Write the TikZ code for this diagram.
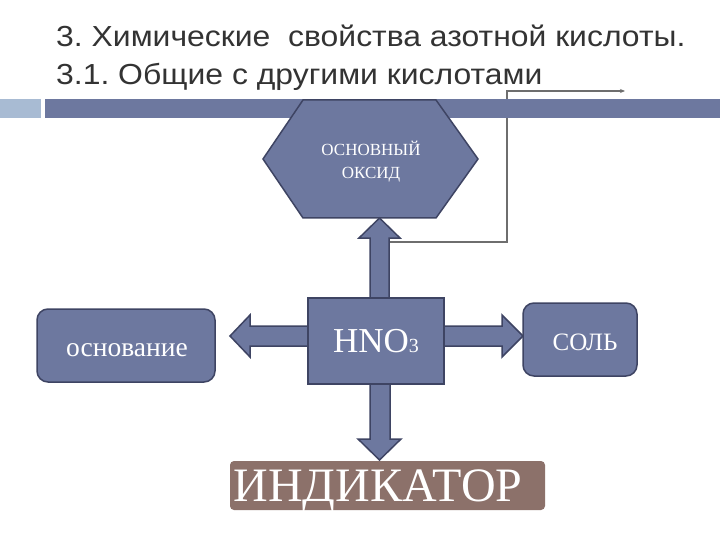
\documentclass[tikz,border=0pt]{standalone}
\usepackage{fontspec}
\setmainfont{Liberation Serif}
\newfontfamily\titlefont{Liberation Sans}
\usetikzlibrary{arrows.meta}
\frenchspacing
\definecolor{boxfill}{HTML}{6D789F}
\definecolor{boxline}{HTML}{3E4463}
\definecolor{lightsq}{HTML}{A8BBD3}
\definecolor{indfill}{HTML}{8C716A}
\definecolor{titlegray}{HTML}{333333}
\definecolor{linegray}{HTML}{6E6E6E}
\tikzset{
  titletext/.style={anchor=base west, text=titlegray, inner sep=0pt,
    font=\titlefont\fontsize{29}{32}\selectfont},
  bluebox/.style={fill=boxfill, draw=boxline, line width=1.5pt, text=white, inner sep=0pt},
  blockarrow/.style={fill=boxfill, draw=boxline, line width=1.5pt, line join=miter},
  connector/.style={draw=linegray, line width=1.5pt, -{Stealth[length=5pt,width=4pt]}},
}
\begin{document}
\begin{tikzpicture}[x=1pt,y=-1pt]
\useasboundingbox (0,0) rectangle (720,540);
\fill[white] (0,0) rectangle (720,540);

% title
\node[titletext] (t1) at (56,47) {\scalebox{1.1}[1]{3. Химические\ \ свойства азотной кислоты.}};
\node[titletext] (t2) at (56,85) {\scalebox{1.1}[1]{3.1. Общие с другими кислотами}};

% connector (partly behind the bar)
\coordinate (cstart) at (390,242);
\coordinate (cend) at (625,91);
\draw[connector] (cstart) -- (507,242) -- (507,91) -- (cend);

% bar
\fill[lightsq] (0,99) rectangle (41,118);
\fill[boxfill] (45,99) rectangle (720,118);

% hexagon
\node[inner sep=0pt, minimum width=215pt, minimum height=118pt] (oxide) at (370.5,159) {};
\filldraw[fill=boxfill, draw=boxline, line width=1.5pt, line join=miter]
  (263,159) -- (303,100) -- (436,100) -- (478,159) -- (436,218) -- (303,218) -- cycle;
\node[text=white, align=center, font=\fontsize{17}{23}\selectfont] (oxidetext) at (371,162) {ОСНОВНЫЙ\\ОКСИД};

% block arrows
\filldraw[blockarrow] (370,300) -- (370,238) -- (359,238) -- (379.5,218) -- (400,238) -- (389,238) -- (389,300);
\filldraw[blockarrow] (370,380) -- (370,439) -- (358,439) -- (379.5,460) -- (401,439) -- (390,439) -- (390,380);
\filldraw[blockarrow] (311,326) -- (250,326) -- (250,315) -- (230,336) -- (250,357) -- (250,346) -- (311,346);
\filldraw[blockarrow] (441,326) -- (502,326) -- (502,315) -- (523,336) -- (502,357) -- (502,346) -- (441,346);

% boxes
\node[bluebox, rounded corners=11pt, minimum width=178pt, minimum height=73pt] (base) at (126,345.5) {};
\node[text=white, inner sep=0pt, font=\fontsize{27.5}{30}\selectfont] (basetext) at (127,350) {основание};
\node[bluebox, minimum width=136pt, minimum height=86pt,
  font=\fontsize{35}{40}\selectfont] (acid) at (376,341) {HNO{\fontsize{20}{20}\selectfont 3}};
\node[bluebox, rounded corners=11pt, minimum width=114pt, minimum height=73pt] (salt) at (580,339.5) {};
\node[text=white, inner sep=0pt, font=\fontsize{25}{28}\selectfont] (salttext) at (585,342) {СОЛЬ};
\node[fill=indfill, rounded corners=4pt, inner sep=0pt, minimum width=315pt, minimum height=49pt] (ind) at (387.5,485.5) {};
\node[text=white, inner sep=0pt, font=\fontsize{48}{52}\selectfont] (indtext) at (378,491) {ИНДИКАТОР};
\end{tikzpicture}
\end{document}
